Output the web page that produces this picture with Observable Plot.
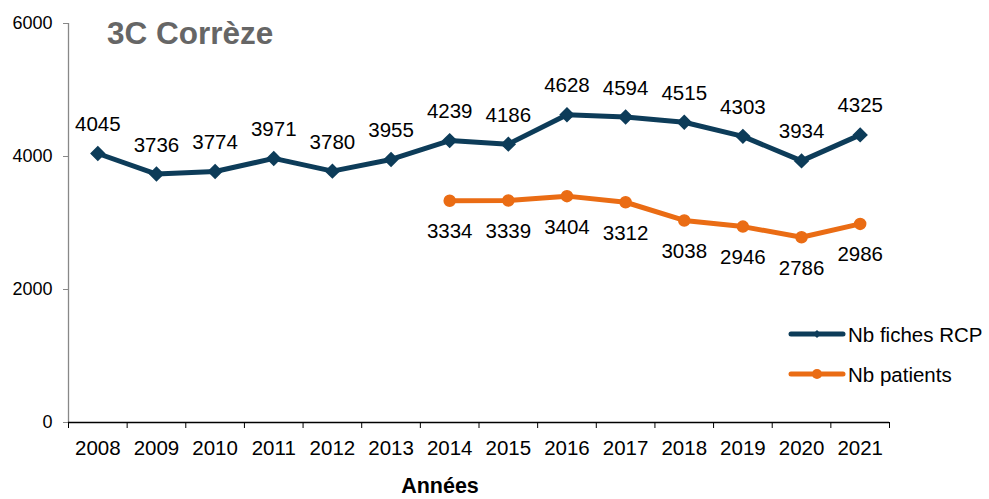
<!DOCTYPE html>
<html>
<head>
<meta charset="utf-8">
<script src="https://cdn.jsdelivr.net/npm/d3@7"></script>
<script src="https://cdn.jsdelivr.net/npm/@observablehq/plot@0.6"></script>
<style>
  html, body { margin: 0; padding: 0; background: #fff; }
  svg { font-family: "Liberation Sans", Arial, sans-serif; }
</style>
</head>
<body>
<div id="chart"></div>
<script>
const years = [2008, 2009, 2010, 2011, 2012, 2013, 2014, 2015, 2016, 2017, 2018, 2019, 2020, 2021];
const fichesRCP = [4045, 3736, 3774, 3971, 3780, 3955, 4239, 4186, 4628, 4594, 4515, 4303, 3934, 4325];
const patientYears = [2014, 2015, 2016, 2017, 2018, 2019, 2020, 2021];
const patients = [3334, 3339, 3404, 3312, 3038, 2946, 2786, 2986];
const yTicks = [0, 2000, 4000, 6000];
const seriesNames = ["Nb fiches RCP", "Nb patients"];
const title = "3C Corrèze";
const xTitle = "Années";

const blue = "#0d3c59";
const orange = "#ea6c14";

const rcp = years.map((y, i) => ({year: y, value: fichesRCP[i]}));
const pat = patientYears.map((y, i) => ({year: y, value: patients[i]}));
const bounds = [years[0] - 0.5, ...years.map(y => y + 0.5)];

const W = 989, H = 499;
const mL = 68, mR = 100, mT = 23, mB = 77;

const plot = Plot.plot({
  width: W,
  height: H,
  marginLeft: mL,
  marginRight: mR,
  marginTop: mT,
  marginBottom: mB,
  style: {fontFamily: "Liberation Sans, Arial, sans-serif", background: "#fff"},
  x: {type: "linear", domain: [years[0] - 0.5, years[years.length - 1] + 0.5], label: null},
  y: {domain: [0, 6000], label: null},
  marks: [
    Plot.axisY({ticks: yTicks, tickSize: 5, tickPadding: 11, stroke: "#888", fill: "#000", fontSize: 18, label: null, tickFormat: d => String(d)}),
    Plot.ruleX([years[0] - 0.5], {stroke: "#888", strokeWidth: 1.3}),
    Plot.axisX({ticks: bounds, tickSize: 6, tickFormat: () => "", stroke: "#000", label: null}),
    Plot.axisX({ticks: years, tickSize: 0, tickPadding: 18, fontSize: 20.5, fill: "#000", label: null, tickFormat: d => String(d)}),
    Plot.ruleY([0], {stroke: "#000", strokeWidth: 1.3}),
    Plot.line(rcp, {x: "year", y: "value", stroke: blue, strokeWidth: 5, strokeLinejoin: "round", strokeLinecap: "round"}),
    Plot.dot(rcp, {x: "year", y: "value", symbol: "diamond2", r: 6, fill: blue, stroke: blue}),
    Plot.line(pat, {x: "year", y: "value", stroke: orange, strokeWidth: 5, strokeLinejoin: "round", strokeLinecap: "round"}),
    Plot.dot(pat, {x: "year", y: "value", symbol: "circle", r: 5.5, fill: orange, stroke: orange}),
    Plot.text(rcp, {x: "year", y: "value", text: d => String(d.value), dy: -29, fontSize: 20.5, fill: "#000"}),
    Plot.text(pat, {x: "year", y: "value", text: d => String(d.value), dy: 31, fontSize: 20.5, fill: "#000"})
  ]
});

const svg = d3.select(plot);
svg.append("text")
  .attr("x", 107).attr("y", 33)
  .attr("text-anchor", "start")
  .attr("dominant-baseline", "central")
  .attr("font-size", 31.5).attr("font-weight", "bold")
  .attr("fill", "#666")
  .text(title);

svg.append("text")
  .attr("x", 440).attr("y", 486)
  .attr("text-anchor", "middle")
  .attr("dominant-baseline", "central")
  .attr("font-size", 21.5).attr("font-weight", "bold")
  .attr("fill", "#000")
  .text(xTitle);

const legend = [
  {name: seriesNames[0], color: blue, y: 334, sym: d3.symbolDiamond2, size: 40},
  {name: seriesNames[1], color: orange, y: 374, sym: d3.symbolCircle, size: 80}
];
legend.forEach(l => {
  svg.append("line")
    .attr("x1", 791).attr("x2", 843).attr("y1", l.y).attr("y2", l.y)
    .attr("stroke", l.color).attr("stroke-width", 5).attr("stroke-linecap", "round");
  svg.append("path")
    .attr("d", d3.symbol(l.sym, l.size)())
    .attr("transform", `translate(817,${l.y})`)
    .attr("fill", l.color);
  svg.append("text")
    .attr("x", 848).attr("y", l.y)
    .attr("text-anchor", "start")
    .attr("dominant-baseline", "central")
    .attr("font-size", 20.5).attr("fill", "#000")
    .text(l.name);
});

document.getElementById("chart").appendChild(plot);
</script>
</body>
</html>
